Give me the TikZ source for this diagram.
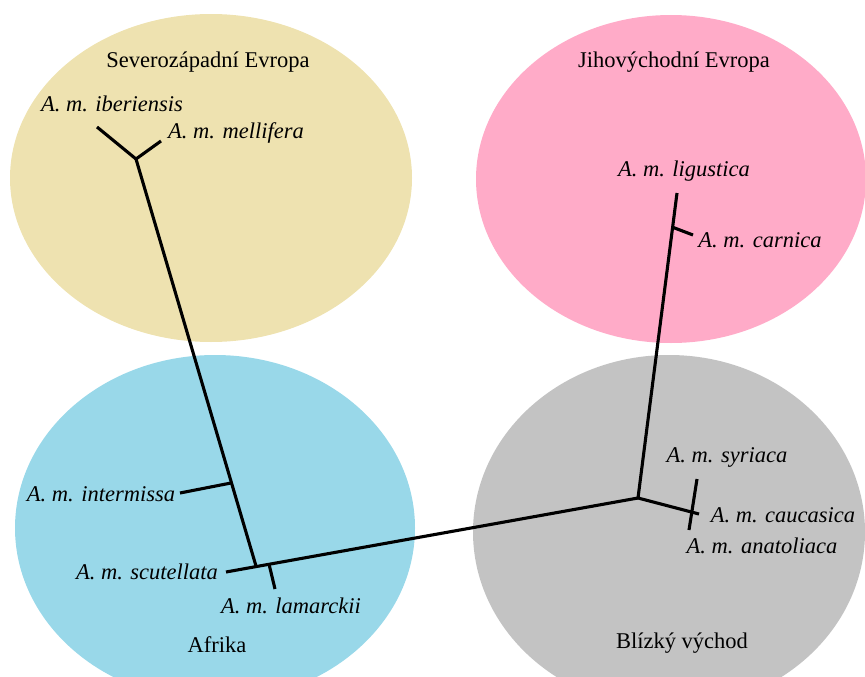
\documentclass[tikz,border=0pt]{standalone}
\usepackage{fontspec}
\setmainfont{Liberation Serif}
\definecolor{cyel}{RGB}{238,226,176}
\definecolor{cpink}{RGB}{255,171,200}
\definecolor{cblue}{RGB}{153,216,233}
\definecolor{cgray}{RGB}{195,195,195}
\begin{document}
\begin{tikzpicture}[x=1pt,y=-1pt,
  region/.style={font=\fontsize{22.5}{27}\selectfont, anchor=base, inner sep=0pt},
  taxon/.style={font=\fontsize{22.5}{27}\selectfont\itshape, anchor=base, inner sep=0pt},
  branch/.style={line width=3.1pt, line cap=butt, line join=miter}]
\useasboundingbox (0,0) rectangle (865,677);
\begin{scope}
\clip (0,0) rectangle (865,677);
\fill[cyel]  (211,178) ellipse [x radius=201pt, y radius=164pt];
\fill[cpink] (671,179) ellipse [x radius=195pt, y radius=164pt];
\fill[cblue] (215,528) ellipse [x radius=200pt, y radius=173pt];
\fill[cgray] (669,532) ellipse [x radius=196pt, y radius=177pt];
\end{scope}
% tree points
\coordinate (nw) at (136,159);
\coordinate (ibE) at (97,127);
\coordinate (meE) at (161,141);
\coordinate (im) at (231,483);
\coordinate (imE) at (180,493);
\coordinate (sc) at (256,566);
\coordinate (scE) at (226,572);
\coordinate (la) at (269,564);
\coordinate (laE) at (275,589);
\coordinate (ne) at (638,498);
\coordinate (ca) at (672,227);
\coordinate (liE) at (677,193);
\coordinate (caE) at (693,235);
\coordinate (cc) at (692,512);
\coordinate (syE) at (697,479);
\coordinate (anE) at (689,530);
\coordinate (ccE) at (699,514);
% branches
\draw[branch] (ibE) -- (nw) -- (meE);
\draw[branch] (nw) -- (sc);
\draw[branch] (im) -- (imE);
\draw[branch] (scE) -- (ne);
\draw[branch] (la) -- (laE);
\draw[branch] (liE) -- (ne) -- (ccE);
\draw[branch] (ca) -- (caE);
\draw[branch] (syE) -- (anE);
% labels
\node[region] (tNW) at (208,67) {Severozápadní Evropa};
\node[region] (tSE) at (674,67) {Jihovýchodní Evropa};
\node[region] (tAF) at (217,652) {Afrika};
\node[region] (tNE) at (682,648) {Blízký východ};
\node[taxon] (lib) at (112,111) {A. m. iberiensis};
\node[taxon] (lme) at (236,138) {A. m. mellifera};
\node[taxon] (lli) at (684,176) {A. m. ligustica};
\node[taxon] (lca) at (760,247) {A. m. carnica};
\node[taxon] (lsy) at (727,462) {A. m. syriaca};
\node[taxon] (lcc) at (783,522) {A. m. caucasica};
\node[taxon] (lan) at (762,553) {A. m. anatoliaca};
\node[taxon] (lim) at (101,501) {A. m. intermissa};
\node[taxon] (lsc) at (147,579) {A. m. scutellata};
\node[taxon] (lla) at (291,613) {A. m. lamarckii};
\end{tikzpicture}
\end{document}
